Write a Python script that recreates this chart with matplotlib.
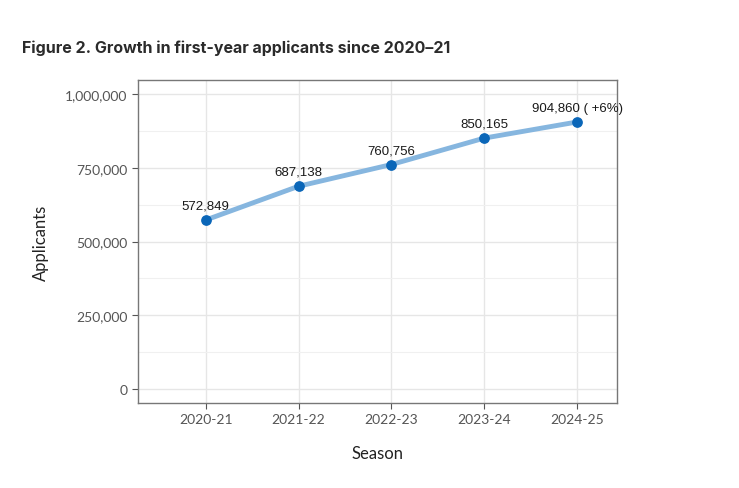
import matplotlib
matplotlib.use("Agg")
import matplotlib.pyplot as plt
from matplotlib.ticker import FuncFormatter, MultipleLocator

seasons = ["2020-21", "2021-22", "2022-23", "2023-24", "2024-25"]
applicants = [572849, 687138, 760756, 850165, 904860]
labels = ["572,849", "687,138", "760,756", "850,165", "904,860 ( +6%)"]
yticks = [0, 250000, 500000, 750000, 1000000]

fig = plt.figure(figsize=(7.39, 4.89), dpi=100)
ax = fig.add_axes([138/739, 1-404/489, (617-138)/739, (404-81)/489])

x = list(range(len(seasons)))
ax.plot(x, applicants, color="#86b6df", lw=3.5, zorder=3, solid_capstyle="round")
ax.scatter(x, applicants, s=45, color="#0a66b8", zorder=4)
for xi, yi, lb in zip(x, applicants, labels):
    ax.annotate(lb, (xi, yi), xytext=(0, 6), textcoords="offset points",
                ha="center", va="bottom", fontsize=9.5, family="Liberation Sans", color="#1a1a1a")

ax.set_xlim(-0.73, 4.43)
ax.set_ylim(-47000, 1047000)
ax.set_xticks(x)
ax.set_xticklabels(seasons)
ax.set_yticks(yticks)
ax.yaxis.set_major_formatter(FuncFormatter(lambda v, p: f"{int(v):,}"))
ax.yaxis.set_minor_locator(MultipleLocator(125000))
ax.grid(True, which="major", color="#e6e6e6", lw=1.0, zorder=0)
ax.grid(True, which="minor", axis="y", color="#f0f0f0", lw=0.8, zorder=0)
ax.tick_params(axis="both", which="major", length=4, color="#555555", labelcolor="#555555",
               labelsize=10)
ax.tick_params(axis="y", which="minor", length=0)
for lab in ax.get_xticklabels() + ax.get_yticklabels():
    lab.set_family("Lato")
for s in ax.spines.values():
    s.set_color("#777777")
    s.set_linewidth(1.0)

ax.set_ylabel("Applicants", fontsize=12, family="Lato", color="#222222", labelpad=12)
ax.set_xlabel("Season", fontsize=12, family="Lato", color="#222222", labelpad=14)

fig.text(22/739, 1-48/489, "Figure 2. Growth in first-year applicants since 2020\u201321",
         fontsize=11.5, fontweight="bold", family="Inter", color="#2b2b2b", va="center", ha="left")

fig.savefig("out.png", dpi=100, facecolor="white")
